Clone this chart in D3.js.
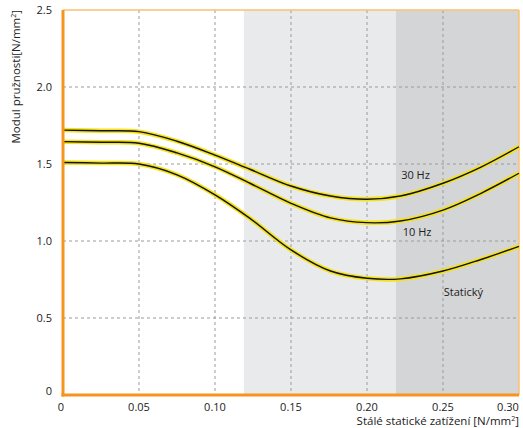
<!DOCTYPE html>
<html><head><meta charset="utf-8">
<script src="https://cdn.jsdelivr.net/npm/d3@7"></script>
<style>body{margin:0;background:#fff}svg{display:block}text{font-family:"Open Sans",sans-serif;fill:#222}</style>
</head><body>
<script>
const W=523,H=428;
const xTicks=[0,0.05,0.10,0.15,0.20,0.25,0.30];
const xTickLabels=["0","0.05","0.10","0.15","0.20","0.25","0.30"];
const yTicks=[0,0.5,1.0,1.5,2.0,2.5];
const yTickLabels=["0","0.5","1.0","1.5","2.0","2.5"];
const xs=[0,0.025,0.05,0.075,0.10,0.123,0.15,0.176,0.20,0.222,0.25,0.275,0.30];
const hz30=[1.72,1.716,1.71,1.648,1.558,1.466,1.357,1.292,1.271,1.292,1.375,1.48,1.612];
const hz10=[1.645,1.641,1.635,1.572,1.482,1.375,1.245,1.150,1.119,1.130,1.201,1.31,1.44];
const stat=[1.51,1.506,1.50,1.43,1.30,1.147,0.942,0.805,0.758,0.754,0.805,0.88,0.965];
const bands=[[0.119,0.219,"#e9eaec"],[0.219,0.30,"#d4d5d7"]];
const labels=[["30 Hz",0.2225,1.40],["10 Hz",0.2235,1.03],["Statický",0.2505,0.64]];

const x=d3.scaleLinear().domain([0,0.30]).range([63,519]);
const y=d3.scaleLinear().domain([0,2.5]).range([395,10]);
const svg=d3.select("body").append("svg").attr("width",W).attr("height",H);

svg.selectAll("rect.band").data(bands).enter().append("rect")
 .attr("x",d=>x(d[0])).attr("width",d=>x(d[1])-x(d[0]))
 .attr("y",y(2.5)).attr("height",y(0)-y(2.5)).attr("fill",d=>d[2]);

const g=svg.append("g");
g.selectAll("line.vg").data(xTicks.slice(1,-1)).enter().append("line")
 .attr("x1",d=>x(d)).attr("x2",d=>x(d)).attr("y1",y(2.5)).attr("y2",y(0))
 .attr("stroke","#9a9a9a").attr("stroke-width",1).attr("stroke-dasharray","3,3");
g.selectAll("line.hg").data(yTicks.slice(1,-1)).enter().append("line")
 .attr("y1",d=>y(d)).attr("y2",d=>y(d)).attr("x1",x(0)).attr("x2",x(0.30))
 .attr("stroke","#9a9a9a").attr("stroke-width",1).attr("stroke-dasharray","3,3");

svg.append("line").attr("x1",x(0)).attr("x2",x(0.30)).attr("y1",y(2.5)).attr("y2",y(2.5)).attr("stroke","#fbbf73").attr("stroke-width",1.5);
svg.append("line").attr("x1",x(0.30)).attr("x2",x(0.30)).attr("y1",y(2.5)).attr("y2",y(0)).attr("stroke","#fbbf73").attr("stroke-width",1.5);

const line=d3.line().x((d,i)=>x(xs[i])).y(d=>y(d)).curve(d3.curveCatmullRom.alpha(0.5));
[hz30,hz10,stat].forEach(s=>{
  svg.append("path").attr("d",line(s)).attr("fill","none").attr("stroke","#f4e21c").attr("stroke-width",4.5);
  svg.append("path").attr("d",line(s)).attr("fill","none").attr("stroke","#111").attr("stroke-width",1.4);
});

svg.append("line").attr("x1",x(0)).attr("x2",x(0)).attr("y1",y(2.5)).attr("y2",y(0)+1.5).attr("stroke","#f7941d").attr("stroke-width",3);
svg.append("line").attr("x1",x(0)-1.5).attr("x2",x(0.30)).attr("y1",y(0)).attr("y2",y(0)).attr("stroke","#f7941d").attr("stroke-width",3);

svg.selectAll("text.xt").data(xTicks).enter().append("text")
 .attr("x",(d,i)=>x(d)-(i==0?2:0)+(i==6?-11:0)).attr("y",411).attr("text-anchor","middle").attr("font-size",11)
 .text((d,i)=>xTickLabels[i]);
svg.selectAll("text.yt").data(yTicks).enter().append("text")
 .attr("x",52).attr("y",d=>y(d)+4+(d==0?-4:0)).attr("text-anchor","end").attr("font-size",11)
 .text((d,i)=>yTickLabels[i]);

svg.selectAll("text.lab").data(labels).enter().append("text")
 .attr("x",d=>x(d[1])).attr("y",d=>y(d[2])).attr("font-size",11).text(d=>d[0]);

const xt=svg.append("text").attr("x",519).attr("y",425).attr("text-anchor","end").attr("font-size",11.5);
xt.append("tspan").text("Stálé statické zatížení [N/mm");
xt.append("tspan").attr("font-size",7).attr("dy",-4).text("2");
xt.append("tspan").attr("dy",4).text("]");
const yt=svg.append("text").attr("transform","translate(20,10) rotate(-90)").attr("text-anchor","end").attr("font-size",11.5);
yt.append("tspan").text("Modul pružnosti[N/mm");
yt.append("tspan").attr("font-size",7).attr("dy",-4).text("2");
yt.append("tspan").attr("dy",4).text("]");
</script>
</body></html>
